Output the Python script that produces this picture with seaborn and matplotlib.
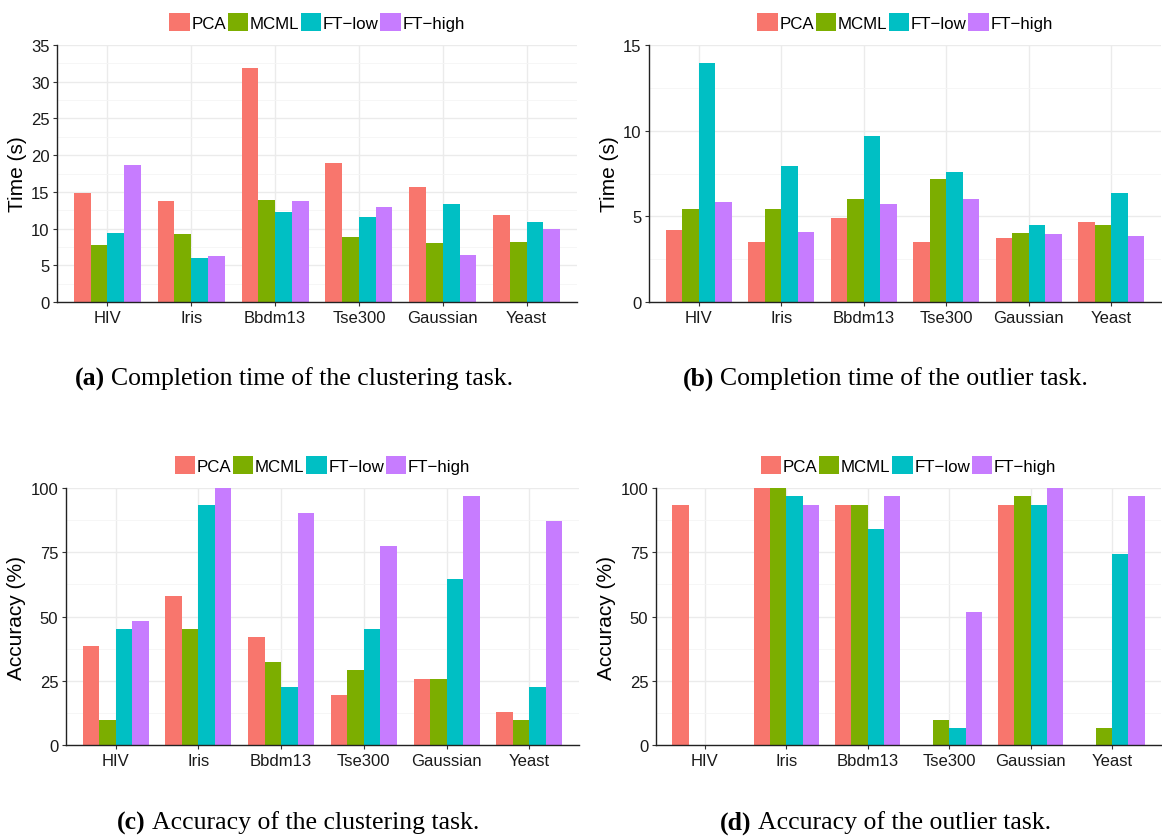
import pandas as pd
import numpy as np
import matplotlib
matplotlib.use('Agg')
import matplotlib.pyplot as plt
import seaborn as sns

# 数据集与方法
datasets = ['HIV', 'Iris', 'Bbdm13', 'Tse300', 'Gaussian', 'Yeast']
methods = ['PCA', 'MCML', 'FT\u2212low', 'FT\u2212high']
colors = ['#F8766D', '#7CAE00', '#00BFC4', '#C77CFF']

# (a) 聚类任务完成时间
cluster_time_pca = [14.8, 13.8, 31.8, 18.9, 15.7, 11.8]
cluster_time_mcml = [7.7, 9.3, 13.95, 8.9, 8.1, 8.2]
cluster_time_ftlow = [9.45, 6.05, 12.3, 11.6, 13.3, 10.95]
cluster_time_fthigh = [18.7, 6.3, 13.8, 13.0, 6.45, 10.0]

# (b) 离群点任务完成时间
outlier_time_pca = [4.23, 3.51, 4.91, 3.51, 3.75, 4.68]
outlier_time_mcml = [5.44, 5.44, 6.02, 7.18, 4.04, 4.5]
outlier_time_ftlow = [13.94, 7.94, 9.69, 7.59, 4.5, 6.37]
outlier_time_fthigh = [5.84, 4.1, 5.73, 6.02, 3.98, 3.86]

# (c) 聚类任务准确率
cluster_acc_pca = [38.71, 58.06, 41.94, 19.35, 25.81, 12.9]
cluster_acc_mcml = [9.68, 45.16, 32.26, 29.03, 25.81, 9.68]
cluster_acc_ftlow = [45.16, 93.55, 22.58, 45.16, 64.52, 22.58]
cluster_acc_fthigh = [48.39, 100.0, 90.32, 77.42, 96.77, 87.1]

# (d) 离群点任务准确率
outlier_acc_pca = [93.55, 100.0, 93.55, 0.0, 93.55, 0.0]
outlier_acc_mcml = [0.0, 100.0, 93.55, 9.68, 96.77, 6.45]
outlier_acc_ftlow = [0.0, 96.77, 83.87, 6.45, 93.55, 74.19]
outlier_acc_fthigh = [0.0, 93.55, 96.77, 51.61, 100.0, 96.77]

W, H = 1162, 837
SANS = ['Liberation Sans', 'DejaVu Sans']
SERIF = ['Liberation Serif', 'DejaVu Serif']


def to_long(series):
    rows = []
    for m, vals in zip(methods, series):
        for d, v in zip(datasets, vals):
            rows.append({'dataset': d, 'method': m, 'value': v})
    return pd.DataFrame(rows)


def panel(fig, box, df, ylim, yticks, ylabel):
    # box: 像素坐标 (left, top, right, bottom)
    l, t, r, b = box
    ax = fig.add_axes([l / W, 1 - b / H, (r - l) / W, (b - t) / H])
    sns.barplot(data=df, x='dataset', y='value', hue='method', order=datasets,
                hue_order=methods, palette=colors, width=0.8, saturation=1,
                errorbar=None, ax=ax)
    ax.set_xlim(-0.6, 5.6)
    ax.set_ylim(*ylim)
    ax.set_yticks(yticks)
    ax.set_yticks([(a + c) / 2 for a, c in zip(yticks[:-1], yticks[1:])], minor=True)
    ax.set_xlabel('')
    ax.set_ylabel(ylabel, fontsize=15, family=SANS, labelpad=3)
    # 网格线
    ax.grid(axis='y', which='major', color='#EBEBEB', linewidth=1.0)
    ax.grid(axis='y', which='minor', color='#F5F5F5', linewidth=0.6)
    ax.grid(axis='x', which='major', color='#EBEBEB', linewidth=1.0)
    ax.set_axisbelow(True)
    for s in ['top', 'right']:
        ax.spines[s].set_visible(False)
    for s in ['left', 'bottom']:
        ax.spines[s].set_color('#222222')
        ax.spines[s].set_linewidth(1.0)
    ax.tick_params(axis='both', which='major', length=3, width=0.8,
                   color='#333333', labelsize=12, labelcolor='#1a1a1a', pad=2.5)
    ax.tick_params(axis='y', which='minor', length=0)
    for lab in ax.get_xticklabels() + ax.get_yticklabels():
        lab.set_family(SANS)
    sns.move_legend(ax, 'lower center', bbox_to_anchor=(0.5, 1.055), ncol=4,
                    title=None, frameon=False, borderaxespad=0, borderpad=0,
                    handlelength=1.2, handleheight=1.2, handletextpad=0.1,
                    columnspacing=0.1, prop={'family': SANS, 'size': 12.2})
    return ax


def caption(fig, x0, y, bold, rest):
    # 粗体编号 + 正文
    r = fig.canvas.get_renderer()
    tb = fig.text(x0 / W, 1 - y / H, bold, ha='left', va='center',
                  fontsize=18.5, fontweight='bold', family=SERIF)
    x1 = tb.get_window_extent(renderer=r).x1
    fig.text((x1 + 6) / W, 1 - y / H, rest, ha='left', va='center',
             fontsize=18.5, family=SERIF)


fig = plt.figure(figsize=(W / 100, H / 100), dpi=100)

panel(fig, (57, 46, 577, 303),
      to_long([cluster_time_pca, cluster_time_mcml, cluster_time_ftlow, cluster_time_fthigh]),
      (0, 35), [0, 5, 10, 15, 20, 25, 30, 35], 'Time (s)')
panel(fig, (649, 46, 1161, 303),
      to_long([outlier_time_pca, outlier_time_mcml, outlier_time_ftlow, outlier_time_fthigh]),
      (0, 15), [0, 5, 10, 15], 'Time (s)')
panel(fig, (66, 489, 579, 746),
      to_long([cluster_acc_pca, cluster_acc_mcml, cluster_acc_ftlow, cluster_acc_fthigh]),
      (0, 100), [0, 25, 50, 75, 100], 'Accuracy (%)')
panel(fig, (656, 489, 1161, 746),
      to_long([outlier_acc_pca, outlier_acc_mcml, outlier_acc_ftlow, outlier_acc_fthigh]),
      (0, 100), [0, 25, 50, 75, 100], 'Accuracy (%)')

caption(fig, 75, 379, '(a)', 'Completion time of the clustering task.')
caption(fig, 683, 379, '(b)', 'Completion time of the outlier task.')
caption(fig, 117, 823, '(c)', 'Accuracy of the clustering task.')
caption(fig, 720, 823, '(d)', 'Accuracy of the outlier task.')

plt.savefig('out.png', dpi=100)
plt.close()
